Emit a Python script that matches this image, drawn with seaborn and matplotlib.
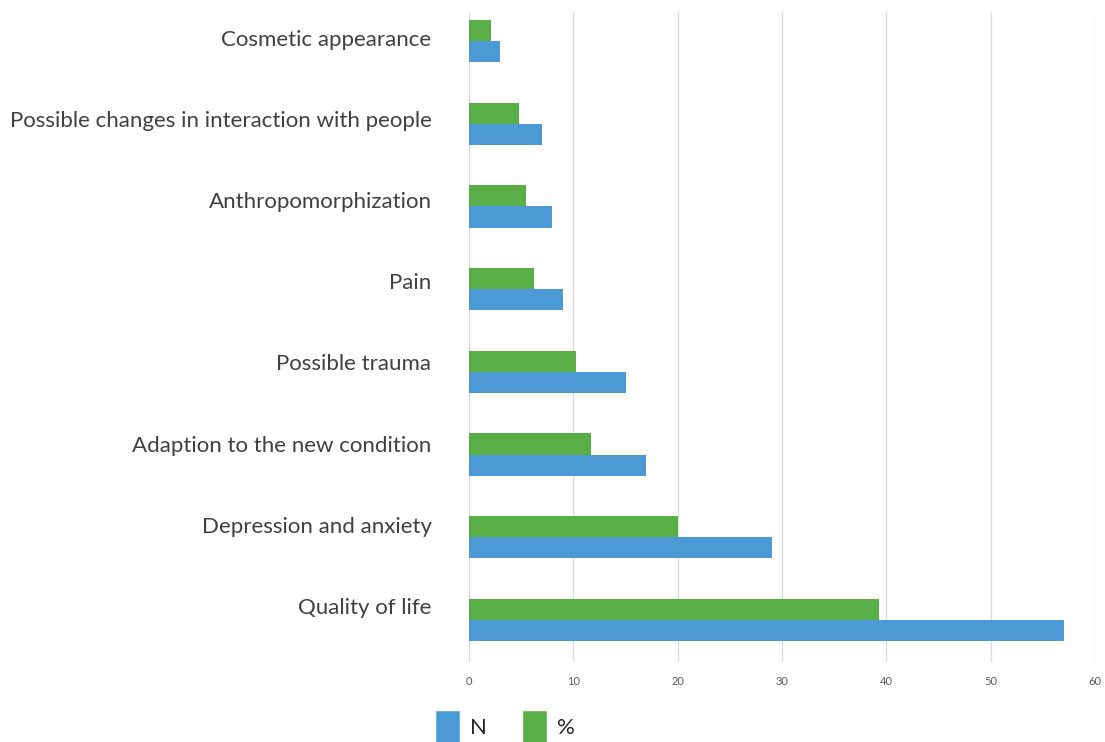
import matplotlib
matplotlib.use("Agg")
import matplotlib.pyplot as plt
import matplotlib.transforms as mtransforms
import seaborn as sns
import pandas as pd
from matplotlib.patches import Patch

categories = ["Cosmetic appearance", "Possible changes in interaction with people",
              "Anthropomorphization", "Pain", "Possible trauma",
              "Adaption to the new condition", "Depression and anxiety", "Quality of life"]
n_values = [3, 7, 8, 9, 15, 17, 29, 57]
pct_values = [2.1, 4.8, 5.5, 6.2, 10.3, 11.7, 20.0, 39.3]
x_ticks = [0, 10, 20, 30, 40, 50, 60]

BLUE = "#4B9AD5"
GREEN = "#5AAE47"

sns.set_theme(style="white")
plt.rcParams["font.family"] = ["Lato", "DejaVu Sans"]

df = pd.concat([
    pd.DataFrame({"category": categories, "value": pct_values, "series": "%"}),
    pd.DataFrame({"category": categories, "value": n_values, "series": "N"}),
])

fig = plt.figure(figsize=(11.05, 7.42), dpi=100)
ax = fig.add_axes([469/1105, 1-662/742, (1095-469)/1105, (662-12)/742])

sns.barplot(data=df, y="category", x="value", hue="series", hue_order=["%", "N"],
            order=categories, palette={"%": GREEN, "N": BLUE}, orient="h",
            width=0.51, gap=0, dodge=True, ax=ax, legend=False, saturation=1,
            linewidth=0, edgecolor="none")

ax.set_xlim(0, 60)
ax.set_ylim(7.508, -0.351)
ax.set_xticks(x_ticks)
ax.set_xticklabels([str(t) for t in x_ticks], fontsize=8, color="#595959")
ax.tick_params(axis="x", length=0, pad=10)
ax.tick_params(axis="y", length=0, pad=27)
for i, lbl in enumerate(ax.get_yticklabels()):
    lbl.set_fontsize(16)
    lbl.set_color("#404040")
    shift = (3 + 1.6 * i) / 100.0
    lbl.set_transform(lbl.get_transform() +
                      mtransforms.ScaledTranslation(0, shift, fig.dpi_scale_trans))
ax.xaxis.grid(True, color="#DCDCDC", linewidth=1.0)
ax.yaxis.grid(False)
ax.set_axisbelow(True)
for s in ax.spines.values():
    s.set_visible(False)
ax.set_xlabel("")
ax.set_ylabel("")

handles = [Patch(facecolor=BLUE, label="N"), Patch(facecolor=GREEN, label="%")]
fig.legend(handles=handles, loc="lower center", bbox_to_anchor=(0.457, -0.03), ncol=2,
           frameon=False, fontsize=16, handlelength=1.1, handleheight=2.0,
           handletextpad=0.45, columnspacing=1.6, labelcolor="#262626")

fig.savefig("out.png", dpi=100)
